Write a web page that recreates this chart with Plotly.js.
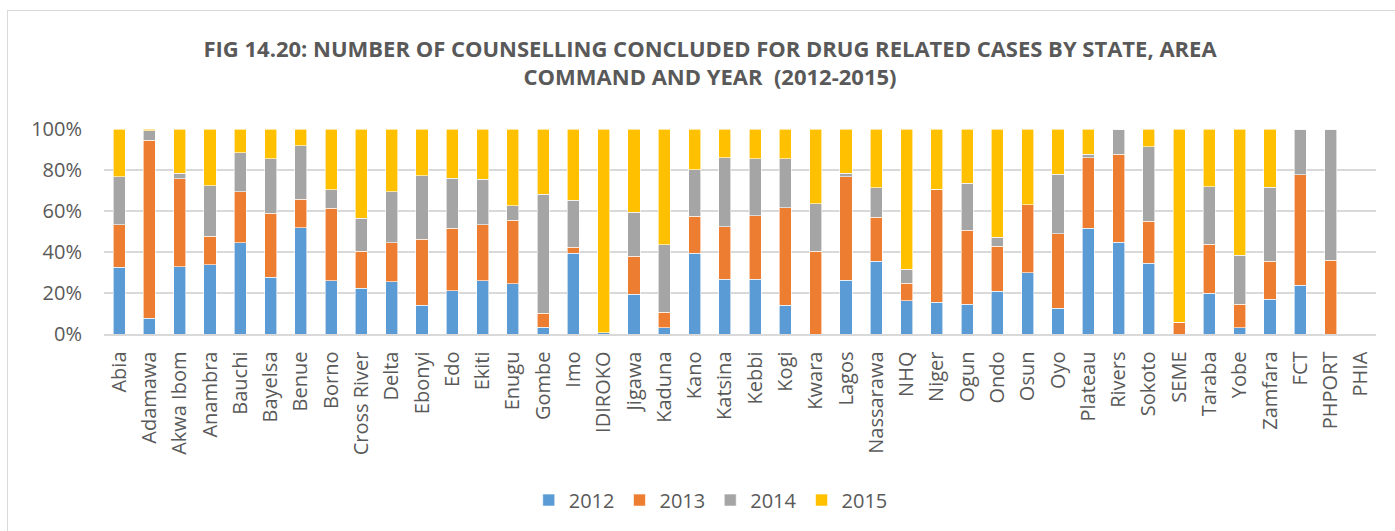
<!DOCTYPE html>
<html>
<head>
<meta charset="utf-8">
<script src="https://cdn.plot.ly/plotly-3.0.1.min.js"></script>
<style>
  html, body { margin: 0; padding: 0; background: #ffffff; }
  #frame { position: absolute; left: 7px; top: 10px; width: 1400px; height: 530px; border: 1px solid #d9d9d9; box-sizing: border-box; }
  #chart { position: absolute; left: 0; top: 0; width: 1395px; height: 531px; }
</style>
</head>
<body>
<div id="frame"></div>
<div id="chart"></div>
<script>
const categories = ["Abia","Adamawa","Akwa Ibom","Anambra","Bauchi","Bayelsa","Benue","Borno","Cross River","Delta","Ebonyi","Edo","Ekiti","Enugu","Gombe","Imo","IDIROKO","Jigawa","Kaduna","Kano","Katsina","Kebbi","Kogi","Kwara","Lagos","Nassarawa","NHQ","Niger","Ogun","Ondo","Osun","Oyo","Plateau","Rivers","Sokoto","SEME","Taraba","Yobe","Zamfara","FCT","PHPORT","PHIA"];

// Share of each year in percent (estimated from the reference chart)
const y2012 = [32.6,7.6,32.8,33.8,44.5,27.8,51.9,26.0,22.4,25.6,14.1,21.1,26.0,24.4,3.4,39.3,0.6,19.5,3.1,39.4,26.6,26.8,14.1,0,26.3,35.6,16.1,15.4,14.4,20.8,30.0,12.5,51.5,44.8,34.6,0,19.8,3.1,17.0,23.9,0,0];
const y2013 = [20.6,86.9,43.0,13.9,25.0,31.0,13.8,35.4,18.0,18.9,32.0,30.4,27.4,31.0,6.7,2.9,0,18.5,7.5,18.1,25.8,31.0,47.4,40.3,50.5,21.4,8.6,55.1,36.2,22.1,33.0,36.5,34.4,42.9,20.4,5.8,24.0,11.5,18.6,53.9,36.0,0];
const y2014 = [23.6,4.7,2.6,24.7,19.0,26.8,26.2,8.9,16.1,25.0,31.0,24.5,22.2,7.1,58.1,23.1,0,21.3,32.9,22.7,33.6,27.8,24.1,23.3,1.6,14.4,6.8,0,22.9,4.3,0,28.9,1.9,12.3,36.4,0,28.0,23.7,36.0,22.2,64.0,0];
const y2015 = [23.2,0.8,21.6,27.6,11.5,14.4,8.1,29.7,43.5,30.5,22.9,24.0,24.4,37.5,31.8,34.7,99.4,40.7,56.5,19.8,14.0,14.4,14.4,36.4,21.6,28.6,68.5,29.5,26.5,52.8,37.0,22.1,12.2,0,8.6,94.2,28.2,61.7,28.4,0,0,0];

const seriesNames = ["2012","2013","2014","2015"];
const seriesData = [y2012, y2013, y2014, y2015];
const seriesColors = ["#5B9BD5","#ED7D31","#A5A5A5","#FFC000"];

const tickVals = [0,20,40,60,80,100];
const tickText = ["0%","20%","40%","60%","80%","100%"];

const traces = seriesData.map((vals, i) => ({
  type: "bar",
  name: seriesNames[i],
  x: categories,
  y: vals,
  marker: { color: seriesColors[i], line: { color: "#ffffff", width: 0.6 } },
  hoverinfo: "x+y+name"
}));

const layout = {
  width: 1395,
  height: 531,
  paper_bgcolor: "rgba(0,0,0,0)",
  plot_bgcolor: "rgba(0,0,0,0)",
  barmode: "stack",
  bargap: 0.6,
  margin: { l: 104, r: 19, t: 129, b: 197, pad: 0 },
  font: { family: "Open Sans, Liberation Sans, sans-serif", color: "#595959", size: 16 },
  title: {
    text: "<b>FIG 14.20: NUMBER OF COUNSELLING CONCLUDED FOR DRUG RELATED CASES BY STATE, AREA<br>COMMAND AND YEAR  (2012-2015)</b>",
    font: { family: "Open Sans, Liberation Sans, sans-serif", size: 22, color: "#595959", lineheight: 1.5 },
    x: 0.509, xanchor: "center",
    y: 0.893, yanchor: "middle"
  },
  xaxis: {
    type: "category",
    tickangle: -90,
    tickfont: { size: 20, color: "#595959" },
    showgrid: false,
    showline: true,
    linecolor: "#d9d9d9",
    linewidth: 1.5,
    ticks: "",
    ticklabelstandoff: 8,
    fixedrange: true
  },
  yaxis: {
    range: [0, 100],
    tickvals: tickVals,
    ticktext: tickText,
    tickfont: { size: 20, color: "#595959" },
    showgrid: true,
    gridcolor: "#d9d9d9",
    gridwidth: 1.5,
    zeroline: false,
    showline: false,
    ticks: "",
    ticklabelstandoff: 21,
    fixedrange: true
  },
  showlegend: true,
  legend: {
    orientation: "h",
    x: 0.477, xanchor: "center",
    y: -0.81, yanchor: "middle",
    font: { size: 20, color: "#595959" },
    traceorder: "normal",
    itemwidth: 30
  }
};

Plotly.newPlot("chart", traces, layout, { displayModeBar: false, staticPlot: true });
</script>
</body>
</html>
